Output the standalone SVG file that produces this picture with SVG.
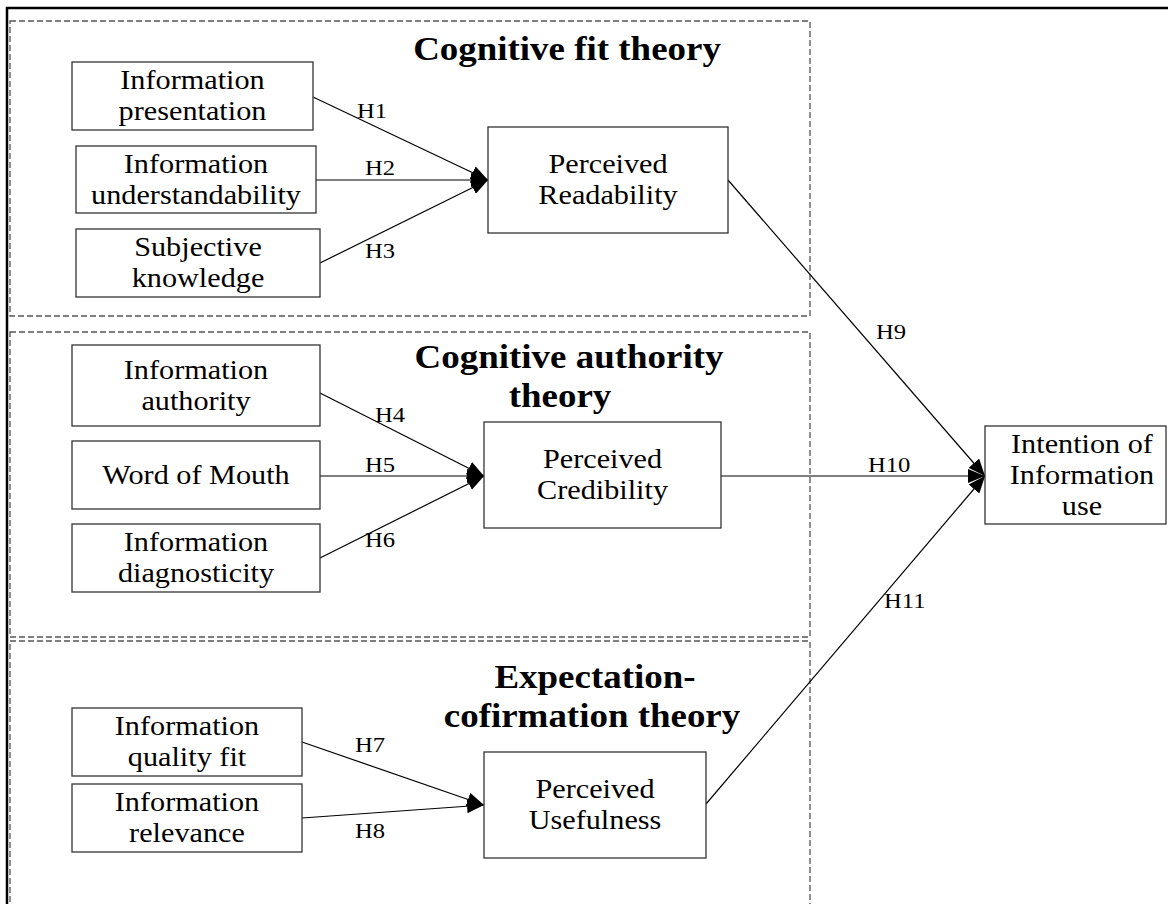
<svg xmlns="http://www.w3.org/2000/svg" width="1168" height="904" viewBox="0 0 1168 904">
<defs>
<style>
.frame{fill:none;stroke:#000;stroke-width:2.5}
.zone{fill:none;stroke:#555;stroke-width:1.3;stroke-dasharray:6 3}
.box{fill:#fff;stroke:#333;stroke-width:1.3}
.n{font-family:"Liberation Serif","Times New Roman",serif;font-size:27px;fill:#000;text-anchor:middle}
.t{font-family:"Liberation Serif","Times New Roman",serif;font-size:33px;font-weight:bold;fill:#000;text-anchor:middle}
.h{font-family:"Liberation Serif","Times New Roman",serif;font-size:22px;fill:#000}
.c{fill:none;stroke:#000;stroke-width:1.2}
</style>
<marker id="ah" markerUnits="userSpaceOnUse" markerWidth="18" markerHeight="14" refX="17" refY="7" orient="auto">
<path d="M0,0 L17,7 L0,14 Z" fill="#000"/>
</marker>
</defs>
<rect width="1168" height="904" fill="#fff"/>
<path class="frame" d="M7,904 V8 H1168"/>
<g id="zones">
<rect class="zone" x="10" y="21" width="800" height="295"/>
<rect class="zone" x="10" y="332" width="800" height="305"/>
<rect class="zone" x="10" y="641" width="800" height="280"/>
</g>
<g id="titles">
<text class="t" transform="translate(567 0) scale(1.12 1)"><tspan x="0" y="60">Cognitive fit theory</tspan></text>
<text class="t" transform="translate(569 0) scale(1.12 1)"><tspan x="0" y="368">Cognitive authority</tspan></text>
<text class="t" transform="translate(560 0) scale(1.12 1)"><tspan x="0" y="407">theory</tspan></text>
<text class="t" transform="translate(595 0) scale(1.12 1)"><tspan x="0" y="688">Expectation-</tspan></text>
<text class="t" transform="translate(592 0) scale(1.12 1)"><tspan x="0" y="727">cofirmation theory</tspan></text>
</g>
<g id="connectors">
<line class="c" x1="313" y1="97" x2="488" y2="180" marker-end="url(#ah)"/>
<line class="c" x1="316" y1="180" x2="488" y2="180" marker-end="url(#ah)"/>
<line class="c" x1="320" y1="263" x2="488" y2="180" marker-end="url(#ah)"/>
<line class="c" x1="320" y1="393" x2="484" y2="476" marker-end="url(#ah)"/>
<line class="c" x1="320" y1="476" x2="484" y2="476" marker-end="url(#ah)"/>
<line class="c" x1="320" y1="558" x2="484" y2="476" marker-end="url(#ah)"/>
<line class="c" x1="302" y1="742" x2="484" y2="805" marker-end="url(#ah)"/>
<line class="c" x1="302" y1="818" x2="484" y2="805" marker-end="url(#ah)"/>
<line class="c" x1="728" y1="180" x2="985" y2="476" marker-end="url(#ah)"/>
<line class="c" x1="721" y1="476" x2="985" y2="476" marker-end="url(#ah)"/>
<line class="c" x1="706" y1="804" x2="985" y2="476" marker-end="url(#ah)"/>
<g id="labels">
<text class="h" transform="translate(357 0) scale(1.12 1)" x="0" y="118">H1</text>
<text class="h" transform="translate(365 0) scale(1.12 1)" x="0" y="175">H2</text>
<text class="h" transform="translate(365 0) scale(1.12 1)" x="0" y="258">H3</text>
<text class="h" transform="translate(375 0) scale(1.12 1)" x="0" y="422">H4</text>
<text class="h" transform="translate(365 0) scale(1.12 1)" x="0" y="472">H5</text>
<text class="h" transform="translate(365 0) scale(1.12 1)" x="0" y="547">H6</text>
<text class="h" transform="translate(355 0) scale(1.12 1)" x="0" y="752">H7</text>
<text class="h" transform="translate(355 0) scale(1.12 1)" x="0" y="838">H8</text>
<text class="h" transform="translate(876 0) scale(1.12 1)" x="0" y="339">H9</text>
<text class="h" transform="translate(868 0) scale(1.12 1)" x="0" y="472">H10</text>
<text class="h" transform="translate(884 0) scale(1.12 1)" x="0" y="608">H11</text>
</g>
</g>
<g id="n-presentation">
<rect class="box" x="72" y="62" width="241" height="68"/>
<text class="n" transform="translate(192.5 0) scale(1.12 1)"><tspan x="0" y="89.5">Information</tspan><tspan x="0" y="120.5">presentation</tspan></text>
</g>
<g id="n-understandability">
<rect class="box" x="76" y="146" width="240" height="67"/>
<text class="n" transform="translate(196 0) scale(1.12 1)"><tspan x="0" y="173">Information</tspan><tspan x="0" y="204">understandability</tspan></text>
</g>
<g id="n-knowledge">
<rect class="box" x="76" y="229" width="244" height="68"/>
<text class="n" transform="translate(198 0) scale(1.12 1)"><tspan x="0" y="256.5">Subjective</tspan><tspan x="0" y="287.5">knowledge</tspan></text>
</g>
<g id="n-readability">
<rect class="box" x="488" y="127" width="240" height="106"/>
<text class="n" transform="translate(608 0) scale(1.12 1)"><tspan x="0" y="173.5">Perceived</tspan><tspan x="0" y="204.5">Readability</tspan></text>
</g>
<g id="n-authority">
<rect class="box" x="72" y="345" width="248" height="81"/>
<text class="n" transform="translate(196 0) scale(1.12 1)"><tspan x="0" y="379">Information</tspan><tspan x="0" y="410">authority</tspan></text>
</g>
<g id="n-wom">
<rect class="box" x="72" y="441" width="248" height="68"/>
<text class="n" transform="translate(196 0) scale(1.12 1)"><tspan x="0" y="484">Word of Mouth</tspan></text>
</g>
<g id="n-diagnosticity">
<rect class="box" x="72" y="524" width="248" height="68"/>
<text class="n" transform="translate(196 0) scale(1.12 1)"><tspan x="0" y="551.5">Information</tspan><tspan x="0" y="582.5">diagnosticity</tspan></text>
</g>
<g id="n-credibility">
<rect class="box" x="484" y="422" width="237" height="106"/>
<text class="n" transform="translate(602.5 0) scale(1.12 1)"><tspan x="0" y="468.5">Perceived</tspan><tspan x="0" y="499.5">Credibility</tspan></text>
</g>
<g id="n-qualityfit">
<rect class="box" x="72" y="708" width="230" height="68"/>
<text class="n" transform="translate(187 0) scale(1.12 1)"><tspan x="0" y="735.5">Information</tspan><tspan x="0" y="766.5">quality fit</tspan></text>
</g>
<g id="n-relevance">
<rect class="box" x="72" y="784" width="230" height="68"/>
<text class="n" transform="translate(187 0) scale(1.12 1)"><tspan x="0" y="811.5">Information</tspan><tspan x="0" y="842.5">relevance</tspan></text>
</g>
<g id="n-usefulness">
<rect class="box" x="484" y="752" width="222" height="106"/>
<text class="n" transform="translate(595 0) scale(1.12 1)"><tspan x="0" y="798.5">Perceived</tspan><tspan x="0" y="829.5">Usefulness</tspan></text>
</g>
<g id="n-intention">
<rect class="box" x="985" y="426" width="181" height="98"/>
<text class="n" transform="translate(1082 0) scale(1.12 1)"><tspan x="0" y="453">Intention of</tspan><tspan x="0" y="484">Information</tspan><tspan x="0" y="515">use</tspan></text>
</g>
</svg>
